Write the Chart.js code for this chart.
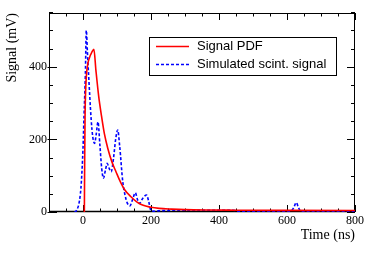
<!DOCTYPE html>
<html>
<head>
<meta charset="utf-8">
<script src="https://cdn.jsdelivr.net/npm/chart.js@4"></script>
<style>
  html, body { margin: 0; background: #fff; }
  #wrap { width: 374px; height: 253px; }
</style>
</head>
<body>
<div id="wrap"><canvas id="c"></canvas></div>
<script>
// Signal PDF (red)
const pdfT = [4, 5, 6, 8, 12, 19, 26, 32, 38, 46, 54, 63, 73, 85, 97, 110, 122, 141, 158, 175, 200, 224, 260, 300, 360, 450, 600, 800];
const pdfV = [0, 150, 260, 340, 395, 425, 440, 448, 390, 320, 267, 215, 175, 138, 111, 83, 62, 42, 28, 19, 13, 10, 8, 6.5, 5.5, 5, 4.5, 4];

// Simulated scintillator signal (blue, dashed)
const simT = [-25, -20, -10, -5, 0, 3, 7, 9.7, 13, 16.5, 24, 29, 34, 39, 44, 50, 55, 60, 66, 71, 77, 83, 90, 96, 102, 108, 117, 124, 130, 138, 146, 154, 160, 166, 176, 187, 193, 200, 210, 220, 300, 440, 460, 610, 620, 627, 634, 640, 800];
const simV = [0, 3, 33, 80, 175, 265, 380, 500, 440, 377, 255, 205, 189, 215, 248, 180, 120, 93, 115, 134, 120, 111, 150, 200, 226, 180, 83, 45, 25, 17, 35, 53, 35, 24, 38, 47, 30, 4, 2, 3, 5, 5, 2, 2, 12, 26, 12, 2, 2];

const xTicks = [0, 200, 400, 600, 800];
const yTicks = [0, 200, 400];
const seriesNames = ["Signal PDF", "Simulated scint. signal"];

function pts(t, v) {
  return t.map((x, i) => ({ x: x, y: v[i] }));
}

const serif = "'Liberation Serif', 'DejaVu Serif', serif";
const sans = "'Liberation Sans', Arial, sans-serif";

// frame with inward ticks, like ROOT
const framePlugin = {
  id: 'frame',
  beforeDatasetsDraw(chart) {
    const ctx = chart.ctx;
    const a = chart.chartArea;
    const xs = chart.scales.x, ys = chart.scales.y;
    ctx.save();
    ctx.strokeStyle = '#000';
    ctx.lineWidth = 1;
    ctx.strokeRect(a.left + 0.5, a.top + 0.5, a.right - a.left - 1, a.bottom - a.top - 1);
    ctx.beginPath();
    for (let v = -100; v <= 800; v += 50) {
      const px = Math.round(xs.getPixelForValue(v)) + 0.5;
      const len = xTicks.includes(v) ? 7 : 3.5;
      ctx.moveTo(px, a.bottom); ctx.lineTo(px, a.bottom - len);
      ctx.moveTo(px, a.top); ctx.lineTo(px, a.top + len);
    }
    for (let v = 0; v <= 550; v += 50) {
      const py = Math.round(ys.getPixelForValue(v)) + 0.5;
      const len = yTicks.includes(v) ? 8 : 4;
      ctx.moveTo(a.left - (yTicks.includes(v) ? 1.5 : 0), py); ctx.lineTo(a.left + len, py);
      ctx.moveTo(a.right, py); ctx.lineTo(a.right - len, py);
    }
    ctx.stroke();
    ctx.lineWidth = 1.5;
    ctx.beginPath();
    ctx.moveTo(a.left, a.bottom - 0.5); ctx.lineTo(a.right, a.bottom - 0.5);
    ctx.stroke();
    ctx.restore();
  },
  afterDraw(chart) {
    const ctx = chart.ctx;
    ctx.save();
    ctx.fillStyle = '#fff';
    ctx.fillRect(149.5, 37.5, 187, 38);
    ctx.strokeStyle = '#000';
    ctx.lineWidth = 1;
    ctx.strokeRect(149.5, 37.5, 187, 38);
    const rows = [46.5, 64.5];
    chart.data.datasets.forEach((ds, i) => {
      ctx.strokeStyle = ds.borderColor;
      ctx.lineWidth = ds.borderWidth;
      ctx.setLineDash(ds.borderDash || []);
      ctx.beginPath();
      ctx.moveTo(156, rows[i]); ctx.lineTo(189, rows[i]);
      ctx.stroke();
      ctx.setLineDash([]);
      ctx.fillStyle = '#000';
      ctx.font = '13px ' + sans;
      ctx.textBaseline = 'middle';
      ctx.fillText(ds.label, 197, rows[i]);
    });
    ctx.restore();
  }
};

new Chart(document.getElementById('c'), {
  type: 'line',
  data: {
    datasets: [{
      label: seriesNames[0],
      data: pts(pdfT, pdfV),
      borderColor: '#ff0000',
      borderWidth: 1.6,
      pointRadius: 0,
      cubicInterpolationMode: 'monotone',
      fill: false
    }, {
      label: seriesNames[1],
      data: pts(simT, simV),
      borderColor: '#0000ff',
      borderWidth: 1.6,
      borderDash: [3, 2],
      pointRadius: 0,
      cubicInterpolationMode: 'monotone',
      fill: false
    }]
  },
  options: {
    responsive: true,
    maintainAspectRatio: false,
    animation: false,
    layout: { padding: { top: 13, right: 19, left: 0, bottom: 0 } },
    plugins: { legend: { display: false }, tooltip: { enabled: false } },
    scales: {
      x: {
        type: 'linear',
        min: -100,
        max: 800,
        afterBuildTicks: s => { s.ticks = xTicks.map(v => ({ value: v })); },
        afterFit: s => { s.height = 41; },
        grid: { display: false, drawTicks: false },
        border: { display: false },
        ticks: { color: '#000', font: { family: serif, size: 12 }, maxRotation: 0, padding: 2 },
        title: { display: true, text: 'Time (ns)', align: 'end', color: '#000', font: { family: serif, size: 14 }, padding: { top: 0, bottom: 9 } }
      },
      y: {
        min: 0,
        max: 548,
        afterBuildTicks: s => { s.ticks = yTicks.map(v => ({ value: v })); },
        afterFit: s => { s.width = 49; },
        grid: { display: false, drawTicks: false },
        border: { display: false },
        ticks: { color: '#000', font: { family: serif, size: 12 }, padding: 2 },
        title: { display: true, text: 'Signal (mV)', align: 'end', color: '#000', font: { family: serif, size: 14 }, padding: { top: 4 } }
      }
    }
  },
  plugins: [framePlugin]
});
</script>
</body>
</html>
